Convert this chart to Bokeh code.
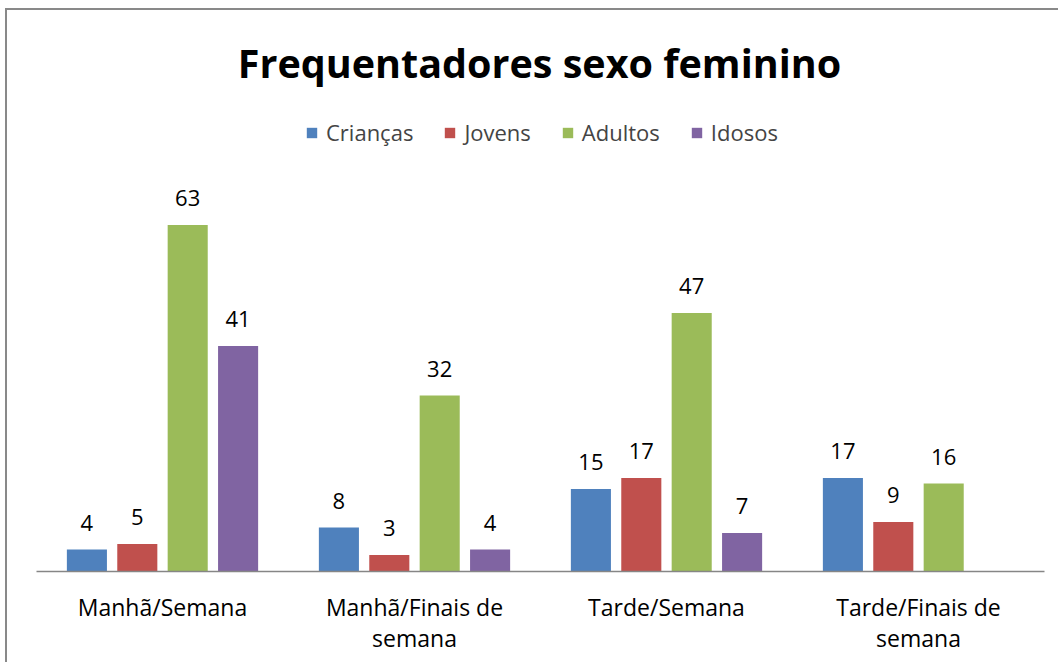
from bokeh.plotting import figure
from bokeh.models import (ColumnDataSource, FactorRange, Range1d, Legend, LegendItem,
                          Label, CategoricalAxis, CustomJSTickFormatter)
from bokeh.transform import dodge
from bokeh.core.properties import value
from bokeh.embed import file_html
from bokeh.resources import INLINE

categories = ["Manhã/Semana", "Manhã/Finais de semana", "Tarde/Semana", "Tarde/Finais de semana"]
label_line1 = ["Manhã/Semana", "Manhã/Finais de", "Tarde/Semana", "Tarde/Finais de"]
label_line2 = ["", "semana", "", "semana"]
series_names = ["Crianças", "Jovens", "Adultos", "Idosos"]
criancas = [4, 8, 15, 17]
jovens = [5, 3, 17, 9]
adultos = [63, 32, 47, 16]
idosos = [41, 4, 7, None]
title_text = "Frequentadores sexo feminino"

colors = ["#4F81BD", "#C0504D", "#9BBB59", "#8064A2"]
offsets = [-0.3, -0.1, 0.1, 0.3]
FONT = "Open Sans"
FS = "22px"
AXFS = "23px"

W, H = 1053, 654
p = figure(x_range=FactorRange(*categories, range_padding=0), y_range=Range1d(0, 102),
           width=W, height=H, output_backend="svg", toolbar_location=None,
           min_border_left=29, min_border_right=16, min_border_top=0, min_border_bottom=93)
p.styles = {"margin": "8px 0 0 5px", "border-top": "2px solid #898989",
            "border-left": "2px solid #898989"}
p.outline_line_color = None
p.xgrid.visible = False
p.ygrid.visible = False
p.yaxis.visible = False

items = []
for name, vals, col, off in zip(series_names, [criancas, jovens, adultos, idosos], colors, offsets):
    xs = [c for c, v in zip(categories, vals) if v is not None]
    ys = [v for v in vals if v is not None]
    src = ColumnDataSource(dict(x=xs, top=ys, label=[str(v) for v in ys]))
    r = p.vbar(x=dodge("x", off, range=p.x_range), top="top", width=0.159, source=src,
               fill_color=col, line_color=None)
    p.text(x=dodge("x", off, range=p.x_range), y="top", text="label", source=src,
           text_align="center", text_baseline="alphabetic", y_offset=-27,
           text_font=value(FONT), text_font_size=FS, text_color="#000000")
    items.append(LegendItem(label=name, renderers=[r]))

fmt_code = "return labels[tick] !== undefined ? labels[tick] : tick;"

ax = p.xaxis[0]
ax.axis_line_color = "#868686"
ax.axis_line_width = 1.5
ax.major_tick_line_color = None
ax.minor_tick_line_color = None
ax.major_label_standoff = 13
ax.major_label_text_font = FONT
ax.major_label_text_font_size = AXFS
ax.major_label_text_color = "#000000"
ax.formatter = CustomJSTickFormatter(args=dict(labels=dict(zip(categories, label_line1))),
                                     code=fmt_code)

ax2 = CategoricalAxis(axis_line_color=None, major_tick_line_color=None,
                      minor_tick_line_color=None, major_label_standoff=-10,
                      major_label_text_font=FONT, major_label_text_font_size=AXFS,
                      major_label_text_color="#000000",
                      formatter=CustomJSTickFormatter(
                          args=dict(labels=dict(zip(categories, label_line2))),
                          code=fmt_code))
p.add_layout(ax2, "below")

legend = Legend(items=items, orientation="horizontal", location=(269, 424),
                glyph_width=13, glyph_height=13, label_text_font=FONT,
                label_text_font_size=FS, label_standoff=8, spacing=30,
                padding=0, margin=0, border_line_color=None, background_fill_alpha=0)
p.add_layout(legend, "center")

title = Label(x=503, y=509, x_units="screen", y_units="screen", text=title_text,
              text_align="center", text_baseline="middle", text_font=FONT,
              text_font_style="bold", text_font_size="39.5px", text_color="#000000")
p.add_layout(title)

open("out.html", "w").write(file_html(p, INLINE))
